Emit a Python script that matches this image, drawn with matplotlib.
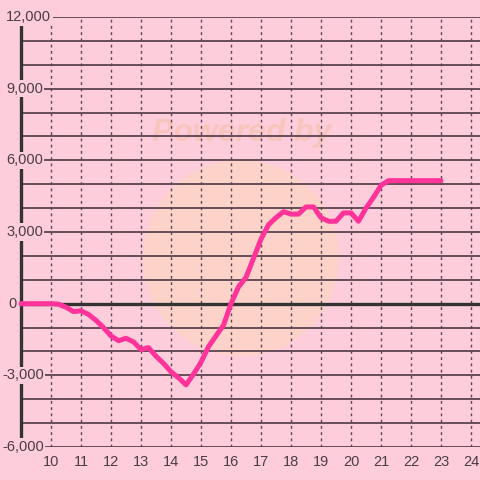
import matplotlib
matplotlib.use("Agg")
import matplotlib.pyplot as plt
from matplotlib.patches import Circle
from matplotlib.transforms import blended_transform_factory

# ---- data ----
x_vals = [9.0, 9.25, 9.5, 9.75, 10.0, 10.25, 10.5, 10.75, 11.0, 11.25, 11.5, 11.75,
          12.0, 12.25, 12.5, 12.75, 13.0, 13.25, 13.5, 13.75, 14.0, 14.25, 14.5,
          14.75, 15.0, 15.25, 15.5, 15.75, 16.0, 16.25, 16.5, 16.75, 17.0, 17.25,
          17.5, 17.75, 18.0, 18.25, 18.5, 18.75, 19.0, 19.25, 19.5, 19.75, 20.0,
          20.25, 20.5, 20.75, 21.0, 21.25, 21.5, 22.0, 22.5, 23.0]
y_vals = [0, 0, 0, 0, 0, -20, -150, -330, -300, -450, -700, -1000,
          -1350, -1550, -1450, -1600, -1920, -1840, -2200, -2500, -2850, -3100, -3400,
          -2950, -2450, -1800, -1350, -900, 0, 700, 1100, 1900, 2700, 3300,
          3600, 3850, 3750, 3750, 4050, 4050, 3600, 3450, 3450, 3800, 3800,
          3450, 4000, 4450, 4950, 5150, 5150, 5150, 5150, 5150]
y_ticks = [12000, 9000, 6000, 3000, 0, -3000, -6000]
y_tick_labels = ["12,000", "9,000", "6,000", "3,000", "0", "-3,000", "-6,000"]
x_ticks = list(range(10, 25))

BG = "#fdcddc"
GRID = "#5b4350"
TXT = "#4a3d45"
LINE = "#ff3399"

W = H = 480
fig = plt.figure(figsize=(4.8, 4.8), dpi=100, facecolor=BG)
ax = fig.add_axes([21 / W, 33 / H, 459 / W, 430 / H], facecolor=BG)
ax.set_xlim(9.0, 24.3)
ax.set_ylim(-6000, 12000)
for s in ax.spines.values():
    s.set_visible(False)
ax.set_xticks([])
ax.set_yticks([])

# watermark
circ = Circle((241 / W, 1 - 258 / H), 98 / W, transform=fig.transFigure,
              facecolor="#fdd3c9", edgecolor="none", zorder=0.5)
ax.add_patch(circ)
ax.text(242 / W, 1 - 133 / H, "Powered by", transform=fig.transFigure,
        ha="center", va="center", fontsize=23, fontweight="bold", fontstyle="italic",
        color="#f8c5bd", family="Liberation Sans", zorder=0.6)

# horizontal grid
for v in range(-6000, 12001, 1000):
    if v == 0:
        continue
    ax.axhline(v, color=GRID, lw=1.3, zorder=1)
# vertical dotted grid
for xv in x_ticks:
    ax.axvline(xv, color=GRID, lw=1.0, ls=(0, (2, 2.5)), zorder=1)

# zero line
ax.axhline(0, color="#333333", lw=2.4, zorder=2)
# left spine
ax.axvline(9.0, color="#333333", lw=2.4, zorder=2, clip_on=False)

# data line
ax.plot(x_vals, y_vals, color=LINE, lw=3.6, solid_joinstyle="round",
        solid_capstyle="round", zorder=3, clip_on=False)

# y labels with background boxes
trans = blended_transform_factory(fig.transFigure, ax.transData)
for v, lab in zip(y_ticks, y_tick_labels):
    if lab.startswith("-"):
        xp = 2
    elif lab == "0":
        xp = 8
    else:
        xp = 6
    ax.text(xp / W, v, lab, transform=trans, ha="left", va="center",
            fontsize=10.5, color=TXT, family="Liberation Sans", zorder=5,
            bbox=dict(facecolor=BG, edgecolor="none", pad=1.2), clip_on=False)

# x labels
transx = blended_transform_factory(ax.transData, fig.transFigure)
for xv in x_ticks:
    ax.text(xv, 1 - 462 / H, str(xv), transform=transx, ha="center", va="center",
            fontsize=10.5, color=TXT, family="Liberation Sans", zorder=5, clip_on=False)

fig.savefig("out.png", dpi=100, facecolor=BG)
